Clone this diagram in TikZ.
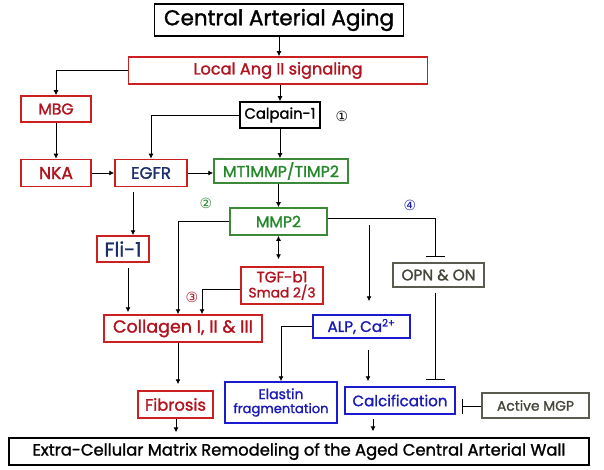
\documentclass[tikz,border=0pt]{standalone}
\usepackage{fontspec}
\usepackage{graphicx}
\setmainfont{Poppins}[BoldFont=Poppins, BoldFeatures={FakeBold=1.4}]
\newfontfamily\symfont{DejaVu Sans}
\usetikzlibrary{arrows.meta,calc}
\newcommand{\fw}[2]{\resizebox{#1pt}{!}{#2}}
\definecolor{bred}{HTML}{CC1F1F}
\definecolor{tred}{HTML}{B3121E}
\definecolor{navy}{HTML}{1C2F6A}
\definecolor{bgreen}{HTML}{3A8A3A}
\definecolor{tgreen}{HTML}{24882A}
\definecolor{bblue}{HTML}{1A1AD0}
\definecolor{tblue}{HTML}{1A1AB8}
\definecolor{bgray}{HTML}{5B5B4F}
\definecolor{tgray}{HTML}{45453A}
\begin{document}
\begin{tikzpicture}[x=1pt,y=-1pt,
  box/.style={draw, line width=1.5pt, inner sep=0pt, align=center,
    font=\bfseries\fontsize{12}{13}\selectfont},
  redbox/.style={box, draw=bred, text=tred},
  navybox/.style={box, draw=bred, text=navy},
  greenbox/.style={box, draw=bgreen, text=tgreen},
  bluebox/.style={box, draw=bblue, text=tblue},
  graybox/.style={box, draw=bgray, text=tgray, line width=1.2pt},
  blackbox/.style={box, draw=black, text=black},
  arr/.style={-{Latex[length=5pt,width=5pt]}, line width=0.9pt},
  darr/.style={{Latex[length=5pt,width=5pt]}-{Latex[length=5pt,width=5pt]}, line width=0.9pt},
  inh/.style={-{Bar[width=19pt,line width=1pt]}, line width=0.9pt},
  num/.style={font=\symfont\fontsize{14}{14}\selectfont, inner sep=0pt}]
\useasboundingbox[fill=white] (0,0) rectangle (604,470);

\node[blackbox, line width=1.8pt, minimum width=249pt, minimum height=32pt] (central) at (279,20) {\fw{230}{Central Arterial Aging}};
\node[redbox, minimum width=299pt, minimum height=27pt] (local) at (278,70.5) {\fw{169}{Local Ang II signaling}};
\node[blackbox, minimum width=80pt, minimum height=26pt] (calpain) at (280,115) {\fw{71}{Calpain-1}};
\node[redbox, minimum width=70pt, minimum height=26pt] (mbg) at (56,109) {\fw{35}{MBG}};
\node[redbox, minimum width=70pt, minimum height=27pt] (nka) at (56,173) {\fw{34}{NKA}};
\node[navybox, minimum width=72pt, minimum height=27pt] (egfr) at (151,173) {\fw{40}{EGFR}};
\node[greenbox, minimum width=134pt, minimum height=24pt] (mt1) at (281,171) {\fw{116}{MT1MMP/TIMP2}};
\node[greenbox, minimum width=97pt, minimum height=27pt] (mmp2) at (278.5,221.5) {\fw{45}{MMP2}};
\node[navybox, minimum width=52pt, minimum height=26pt] (fli) at (123,249) {\fw{37}{Fli-1}};
\node[redbox, minimum width=82pt, minimum height=37pt] (tgf) at (282,285.5) {\fw{51}{TGF-b1}\\[1pt]\fw{67}{Smad 2/3}};
\node[graybox, minimum width=91pt, minimum height=24pt] (opn) at (438.5,275) {\fw{74}{OPN \& ON}};
\node[redbox, minimum width=158pt, minimum height=27pt] (collagen) at (183,328.5) {\fw{140}{Collagen I, II \& III}};
\node[bluebox, minimum width=97pt, minimum height=23pt] (alp) at (361.5,326.5) {\fw{68}{ALP, Ca\textsuperscript{2+}}};
\node[redbox, minimum width=75pt, minimum height=27pt] (fibrosis) at (175.5,404.5) {\fw{61}{Fibrosis}};
\node[bluebox, minimum width=112pt, minimum height=41pt] (elastin) at (281,402.5) {\fw{45}{Elastin}\\[1pt]\fw{95}{fragmentation}};
\node[bluebox, minimum width=110pt, minimum height=27pt] (calc) at (400,400.5) {\fw{95}{Calcification}};
\node[graybox, minimum width=107pt, minimum height=25pt] (mgp) at (535.5,405.5) {\fw{77}{Active MGP}};
\node[blackbox, line width=1.3pt, minimum width=580pt, minimum height=27pt] (ecm) at (299,451.5) {\fw{533}{Extra-Cellular Matrix Remodeling of the Aged Central Arterial Wall}};

\node[num, text=black] (n1) at (342,116) {①};
\node[num, text=tgreen] (n2) at (206,203) {②};
\node[num, text=tred] (n3) at (192,297) {③};
\node[num, text=tblue] (n4) at (410,205) {④};

\draw[arr] (central.south) -- (central.south |- local.north);
\draw[arr] (calpain.north |- local.south) -- (calpain.north);
\draw[arr] (local.west) -| (mbg.north);
\draw[arr] (calpain.west) -| (egfr.north);
\draw[arr] (calpain.south) -- (calpain.south |- mt1.north);
\draw[arr] (mbg) -- (nka);
\draw[arr] (nka) -- (egfr);
\draw[arr] (egfr.east) -- (egfr.east -| mt1.west);
\draw[arr] ($(egfr.south)+(-18,5)$) -- ($(fli.north)+(10,0)$);
\draw[arr] (mmp2.north |- mt1.south) -- (mmp2.north);
\draw[arr] (mmp2.west) -| ($(collagen.north)+(-5,0)$);
\draw[darr] (mmp2.south) -- ($(mmp2.south |- tgf.north)+(0,-7)$);
\draw[arr] ($(tgf.west)+(0,3.5)$) -| ($(collagen.north)+(19,0)$);
\draw[inh] ($(mmp2.east)+(0,-3.5)$) -| ($(opn.north)+(-3.5,-5)$);
\coordinate (mmpdown) at (369,225);
\draw[arr] (mmpdown) -- ($(alp.north)+(7.5,-13)$);
\draw[arr] (alp.west) -| (elastin.north);
\draw[arr] ($(alp.south)+(6.5,11)$) -- ($(calc.north)+(-32,-5)$);
\draw[inh] ($(opn.south)+(-3.5,5)$) -- ($(calc.north)+(35,-6)$);
\draw[-{Bar[width=15pt,line width=1pt]}, line width=0.9pt] ($(mgp.west)+(0,0.5)$) -- ($(mgp.west)+(-19,0.5)$);
\draw[arr] ($(fli.south)+(5,5)$) -- ($(collagen.north)+(-55,-2)$);
\draw[arr] ($(collagen.south)+(-5,0)$) -- ($(fibrosis.north)+(2.5,-6)$);
\draw[arr] ($(fibrosis.south)+(0.5,0)$) -- ($(fibrosis.south |- ecm.north)+(0.5,-5)$);
\draw[arr] ($(calc.south)+(-27,4)$) -- ($(calc.south |- ecm.north)+(-27,-6)$);
\end{tikzpicture}
\end{document}
